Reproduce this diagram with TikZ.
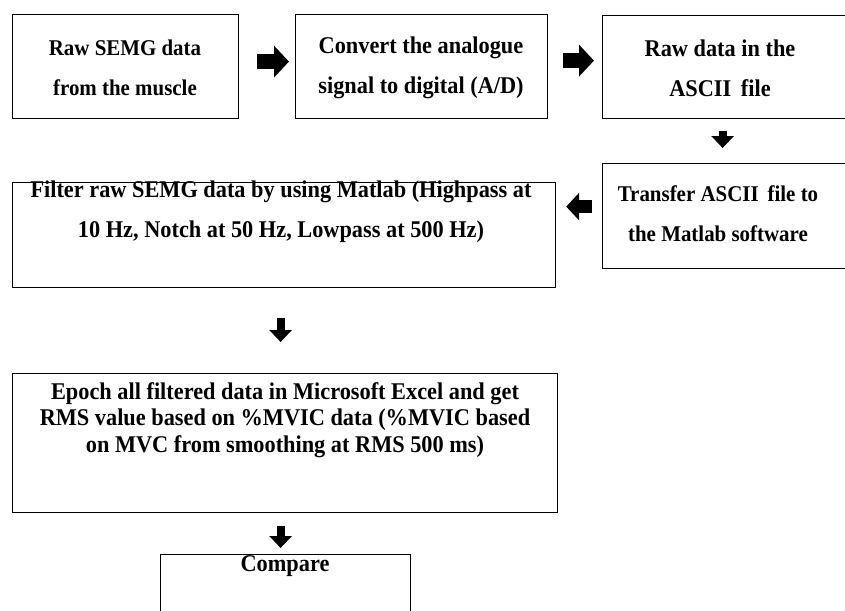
\documentclass[tikz,border=0pt]{standalone}
\usepackage{fontspec}
\setmainfont{Liberation Serif}[FakeStretch=0.93]
\usetikzlibrary{arrows.meta,calc}

\tikzset{
  box/.style={draw, line width=1.2pt, rectangle, inner sep=0pt, anchor=north west},
  boxtext/.style={align=center, inner sep=0pt, font=\fontsize{24}{40}\selectfont\bfseries},
  smalltext/.style={align=center, inner sep=0pt, font=\fontsize{22.5}{40}\selectfont\bfseries},
  tighttext/.style={align=center, inner sep=0pt, font=\fontsize{24}{26.5}\selectfont\bfseries},
  blockright/.style={line width=15pt, -{Triangle[length=15pt,width=31pt]}},
  blockdown/.style={line width=8pt, -{Triangle[length=12pt,width=22pt]}},
  blockleft/.style={line width=13pt, -{Triangle[length=13pt,width=27pt]}},
}

\begin{document}
\begin{tikzpicture}[x=1pt,y=-1pt]
  \useasboundingbox (0,0) rectangle (845,610);
  \clip (0,0) rectangle (845,610);

  % boxes (given by top-left corner and size)
  \node[box, minimum width=226pt, minimum height=104pt] (raw)      at (12,14)  {};
  \node[box, minimum width=252pt, minimum height=104pt] (convert)  at (295,14) {};
  \node[box, minimum width=260pt, minimum height=103pt] (ascii)    at (602,15) {};
  \node[box, minimum width=260pt, minimum height=105pt] (transfer) at (602,163) {};
  \node[box, minimum width=543pt, minimum height=105pt] (filter)   at (12,182) {};
  \node[box, minimum width=545pt, minimum height=139pt] (epoch)    at (12,373) {};
  \node[box, minimum width=250pt, minimum height=80pt]  (compare)  at (160,554) {};

  % texts
  \node[smalltext] at (125,68)  {Raw SEMG data\\from the muscle};
  \node[boxtext]   at (421,68)  {Convert the analogue\\signal to digital (A/D)};
  \node[boxtext]   at (720,68)  {Raw data in the\\ASCII\, file};
  \node[smalltext] at (718,214) {Transfer ASCII\, file to\\the Matlab software};
  \node[boxtext]   at (281,212) {Filter raw SEMG data by using Matlab (Highpass at\\10 Hz, Notch at 50 Hz, Lowpass at 500 Hz)};
  \node[tighttext] at (285,420)
    {Epoch all filtered data in Microsoft Excel and get\\RMS value based on \%MVIC data (\%MVIC based\\on MVC from smoothing at RMS 500 ms)};
  \node[tighttext] at (285,566) {Compare};

  % block arrows between the steps
  \draw[blockright] ($(raw.east)+(18,-5)$)       -- ($(convert.west)+(-6,-5)$);
  \draw[blockright] ($(convert.east)+(15,-6)$)   -- ($(ascii.west)+(-8,-6.5)$);
  \draw[blockdown]  ($(ascii.south)+(-10,12)$)   -- ($(transfer.north)+(-10,-15)$);
  \draw[blockleft]  ($(transfer.west)+(-10,-9.5)$) -- ($(filter.east)+(10,-28.5)$);
  \draw[blockdown]  ($(filter.south)+(-3.5,30)$) -- ($(epoch.north)+(-4.5,-31)$);
  \draw[blockdown]  ($(epoch.south)+(-4.5,13)$)  -- ($(compare.north)+(-5,-6)$);
\end{tikzpicture}
\end{document}
